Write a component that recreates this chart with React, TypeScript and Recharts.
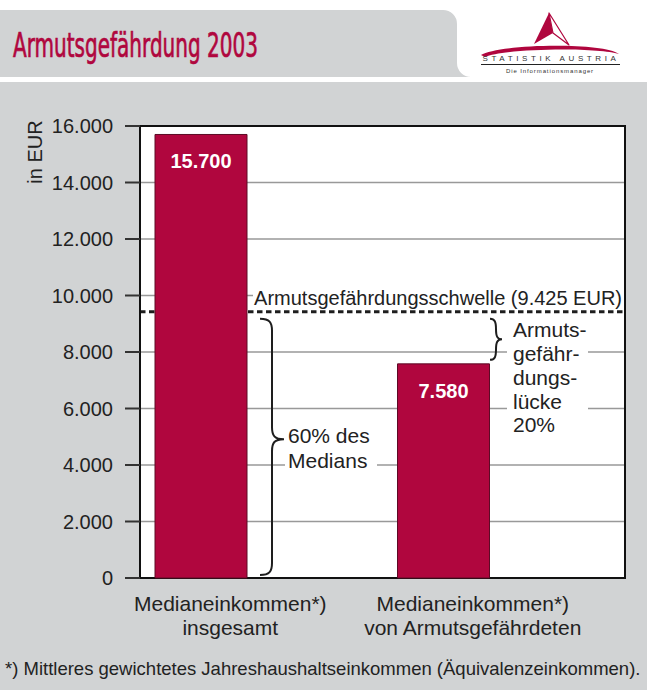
import { BarChart, Bar, XAxis, YAxis, CartesianGrid, ReferenceLine, ReferenceArea, LabelList } from 'recharts';

const FONT = "'Liberation Sans', Arial, Helvetica, sans-serif";
const CRIMSON = '#b0063e';
const GRAY = '#d1d3d4';
const INK = '#1e1e1e';

const categories = ['Medianeinkommen*)\ninsgesamt', 'Medianeinkommen*)\nvon Armutsgefährdeten'];
const medianIncome = [15700, 7580];
const povertyThreshold = 9425;
const yTicks = [0, 2000, 4000, 6000, 8000, 10000, 12000, 14000, 16000];
const thresholdLabel = 'Armutsgefährdungsschwelle (9.425 EUR)';
const medianShareLines = ['60% des', 'Medians'];
const gapLines = ['Armuts-', 'gefähr-', 'dungs-', 'lücke', '20%'];

const data = categories.map((name, i) => ({ name, value: medianIncome[i] }));

const fmt = (v: number) => String(v).replace(/\B(?=(\d{3})+(?!\d))/g, '.');

// vertical curly brace, open to the left, tip pointing right
function bracePath(xs: number, top: number, bottom: number, w: number, mid: number) {
  const r = Math.min(12, (bottom - top) / 4);
  return `M${xs - w},${top} C${xs - w * 0.2},${top} ${xs},${top + r * 0.3} ${xs},${top + r} ` +
    `L${xs},${mid - r} C${xs},${mid - r * 0.3} ${xs + w * 0.2},${mid} ${xs + w},${mid} ` +
    `C${xs + w * 0.2},${mid} ${xs},${mid + r * 0.3} ${xs},${mid + r} ` +
    `L${xs},${bottom - r} C${xs},${bottom - r * 0.3} ${xs - w * 0.2},${bottom} ${xs - w},${bottom}`;
}

const MedianBrace = (p: any) => {
  const xs = p.x + 132;
  const top = p.y + 7;
  const bottom = p.y + p.height - 3;
  const mid = top + (bottom - top) * 0.47;
  return (
    <g>
      <path d={bracePath(xs, top, bottom, 12, mid)} stroke={INK} strokeWidth={2} fill="none" />
      <rect x={xs + 13} y={mid - 14} width={92} height={48} fill="#fff" />
      {medianShareLines.map((t, i) => (
        <text key={i} x={xs + 16} y={mid + 4 + i * 24.5} fill="#222" fontSize={21} fontFamily={FONT}>{t}</text>
      ))}
    </g>
  );
};

const GapBrace = (p: any) => {
  const xs = p.x + 356;
  const top = p.y + 7;
  const bottom = p.y + p.height - 4;
  const mid = (top + bottom) / 2;
  return (
    <g>
      <path d={bracePath(xs, top, bottom, 6, mid)} stroke={INK} strokeWidth={2} fill="none" />
      <rect x={xs + 11} y={top} width={81} height={122} fill="#fff" />
      {gapLines.map((t, i) => (
        <text key={i} x={xs + 17} y={top + 18.5 + i * 23.8} fill="#222" fontSize={21} fontFamily={FONT}>{t}</text>
      ))}
    </g>
  );
};

const ThresholdLabel = (p: any) => {
  const { x, y, width } = p.viewBox;
  const right = x + width - 3;
  return (
    <g>
      <rect x={right - 369} y={y - 27} width={371} height={23} fill="#fff" />
      <text x={right} y={y - 7} textAnchor="end" fill="#222" fontSize={20} fontFamily={FONT}>{thresholdLabel}</text>
    </g>
  );
};

const BarValue = (p: any) => {
  const vb = p.viewBox ?? p;
  const x = vb.x ?? p.x;
  const y = vb.y ?? p.y;
  const w = vb.width ?? p.width;
  return (
    <text x={x + w / 2} y={y + 34} textAnchor="middle" fill="#fff" fontWeight="bold" fontSize={20} fontFamily={FONT}>
      {fmt(Number(p.value))}
    </text>
  );
};

const CategoryTick = (p: any) => {
  const lines = String(p.payload.value).split('\n');
  return (
    <g>
      {lines.map((t, i) => (
        <text key={i} x={p.x - 31} y={p.y + 33 + i * 24} textAnchor="middle" fill="#222" fontSize={21} fontFamily={FONT}>{t}</text>
      ))}
    </g>
  );
};

export default function App() {
  return (
    <div style={{ position: 'absolute', left: 0, top: 0, width: 647, height: 690, background: '#fff', fontFamily: FONT }}>
      <svg width={647} height={690} style={{ position: 'absolute', left: 0, top: 0 }}>
        <path d="M0,10 H443 A14,14 0 0 1 457,24 V63 A14,14 0 0 0 471,77 H0 Z" fill={GRAY} />
        <rect x={0} y={82} width={647} height={608} fill={GRAY} />
        <text x={13} y={57} fill={CRIMSON} stroke={CRIMSON} strokeWidth={0.7} fontSize={34}
          fontFamily="'DejaVu Sans Condensed', 'Liberation Sans Narrow', sans-serif"
          textLength={245} lengthAdjust="spacingAndGlyphs">Armutsgefährdung 2003</text>

        {/* logo */}
        <polygon points="549,13 534,44 553,33" fill={CRIMSON} />
        <polygon points="549,13 553,33 569,45" fill="#fff" stroke={CRIMSON} strokeWidth={1.2} strokeLinejoin="round" />
        <path d="M481,55 C498,44 602,42 619,54 C598,47 505,48 485,57 Z" fill={CRIMSON} />
        <text x={551} y={61} textAnchor="middle" fontSize={8} letterSpacing={3.6} fill="#333" fontFamily={FONT}>STATISTIK AUSTRIA</text>
        <line x1={481} x2={620} y1={64.5} y2={64.5} stroke="#222" strokeWidth={1} />
        <text x={550} y={73} textAnchor="middle" fontSize={6} letterSpacing={0.9} fill="#333" fontFamily={FONT}>Die Informationsmanager</text>

        <text transform="translate(42,152) rotate(-90)" textAnchor="middle" fill="#222" fontSize={20} fontFamily={FONT}>in EUR</text>
        <text x={5} y={675} fill="#222" fontSize={18.5} fontFamily={FONT}>
          *) Mittleres gewichtetes Jahreshaushaltseinkommen (Äquivalenzeinkommen).
        </text>
      </svg>
      <div style={{ position: 'absolute', left: 0, top: 0 }}>
        <BarChart width={647} height={690} data={data} margin={{ top: 126, right: 22, bottom: 52, left: 40 }} barGap={28.5}>
          <CartesianGrid vertical={false} stroke="#999" strokeWidth={1.5} fill="#fff" fillOpacity={1} />
          <ReferenceLine y={povertyThreshold} stroke={INK} strokeWidth={3} strokeDasharray="5.5 3.5" label={ThresholdLabel} zIndex={-60} />
          <XAxis dataKey="name" height={60} axisLine={false} tickLine={false} tickSize={0} tickMargin={0} tick={CategoryTick} interval={0} />
          <YAxis type="number" domain={[0, 16000]} ticks={yTicks} tickFormatter={fmt} width={100} tickSize={15} tickMargin={12}
            axisLine={false} tickLine={{ stroke: '#333', strokeWidth: 2 }} tick={{ fill: '#222', fontSize: 20, fontFamily: FONT }} interval={0} />
          <Bar dataKey="value" barSize={92} fill={CRIMSON} stroke="#5c0a25" strokeWidth={1} isAnimationActive={false}>
            <LabelList dataKey="value" content={BarValue} />
          </Bar>
          <Bar dataKey="spacer" barSize={92} fill="none" isAnimationActive={false} />
          <ReferenceArea y1={0} y2={povertyThreshold} shape={MedianBrace} />
          <ReferenceArea y1={medianIncome[1]} y2={povertyThreshold} shape={GapBrace} />
          <ReferenceArea y1={0} y2={16000} fillOpacity={0} stroke="#111" strokeWidth={2} />
        </BarChart>
      </div>
    </div>
  );
}
